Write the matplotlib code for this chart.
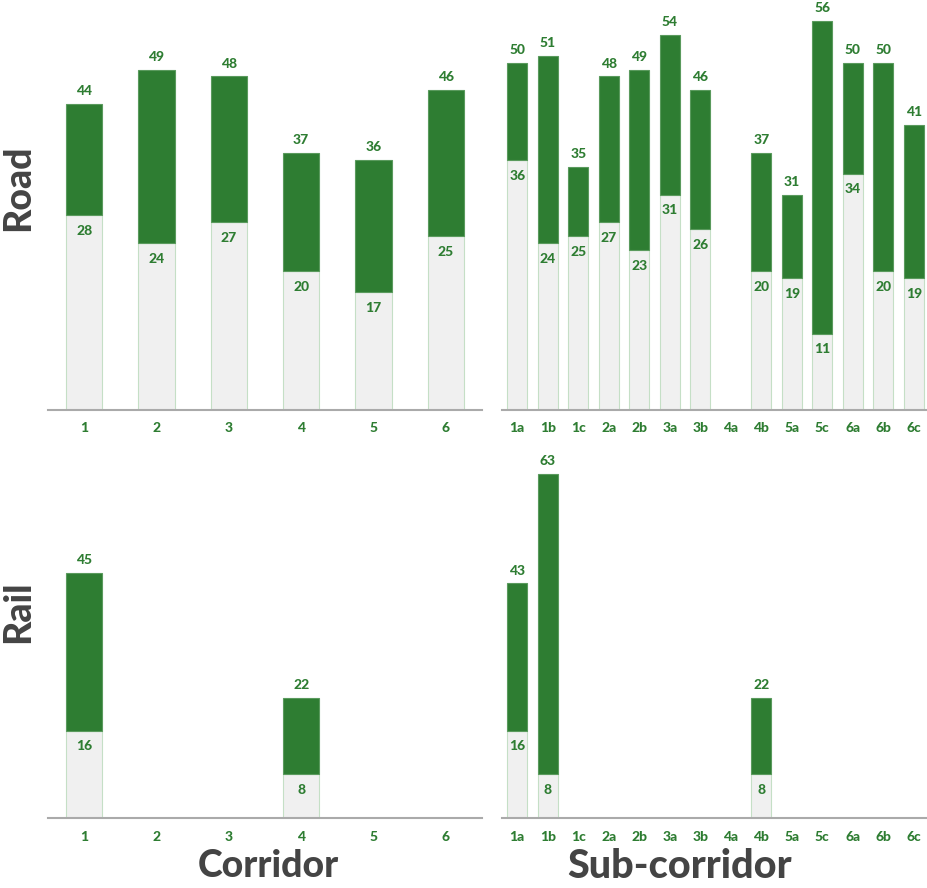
import numpy as np
import matplotlib.pyplot as plt

plt.rcParams['font.family'] = ['Lato', 'DejaVu Sans']

DARK = '#2e7d32'
LIGHT = '#f0f0f0'
LIGHT_EDGE = '#c5dfc6'
GREY = '#444444'

corridors = ['1', '2', '3', '4', '5', '6']
subcorridors = ['1a', '1b', '1c', '2a', '2b', '3a', '3b', '4a', '4b',
                '5a', '5c', '6a', '6b', '6c']

# Road: top of bar (dark) and lower value (light part)
road_corr_hi = [44, 49, 48, 37, 36, 46]
road_corr_lo = [28, 24, 27, 20, 17, 25]
road_sub_hi = [50, 51, 35, 48, 49, 54, 46, None, 37, 31, 56, 50, 50, 41]
road_sub_lo = [36, 24, 25, 27, 23, 31, 26, None, 20, 19, 11, 34, 20, 19]

# Rail
rail_corr_hi = [45, None, None, 22, None, None]
rail_corr_lo = [16, None, None, 8, None, None]
rail_sub_hi = [43, 63, None, None, None, None, None, None, 22,
               None, None, None, None, None]
rail_sub_lo = [16, 8, None, None, None, None, None, None, 8,
               None, None, None, None, None]


def draw(ax, cats, hi, lo, width, ymax):
    x = np.arange(len(cats))
    for xi, h, l in zip(x, hi, lo):
        if h is None:
            continue
        ax.bar(xi, l, width, color=LIGHT, edgecolor=LIGHT_EDGE, linewidth=0.8)
        ax.bar(xi, h - l, width, bottom=l, color=DARK, edgecolor='#5a9a5d',
               linewidth=0.8)
        ax.annotate(str(h), (xi, h), xytext=(0, 5), textcoords='offset points',
                    ha='center', va='bottom', color=DARK, fontsize=10,
                    fontweight='black')
        ax.annotate(str(l), (xi, l), xytext=(0, -7), textcoords='offset points',
                    ha='center', va='top', color=DARK, fontsize=10,
                    fontweight='black')
    ax.set_xlim(-0.5, len(cats) - 0.5)
    ax.set_ylim(0, ymax)
    ax.set_xticks(x)
    ax.set_xticklabels(cats, color=DARK, fontsize=10, fontweight='black')
    ax.tick_params(axis='x', length=0, pad=9)
    ax.set_yticks([])
    for s in ['top', 'left', 'right']:
        ax.spines[s].set_visible(False)
    ax.spines['bottom'].set_color('#aaaaaa')
    ax.spines['bottom'].set_linewidth(1.5)


fig = plt.figure(figsize=(9.27, 8.88), dpi=100)
W, H = 927, 888

def add_axes(x0, x1, ybase, ytop):
    return fig.add_axes([x0 / W, (H - ybase) / H, (x1 - x0) / W, (ybase - ytop) / H])

ax1 = add_axes(48, 482, 410, 7)
ax2 = add_axes(502, 929, 410, 7)
ax3 = add_axes(48, 482, 818, 458)
ax4 = add_axes(502, 929, 818, 458)

draw(ax1, corridors, road_corr_hi, road_corr_lo, 0.5, 58)
draw(ax2, subcorridors, road_sub_hi, road_sub_lo, 0.66, 58)
draw(ax3, corridors, rail_corr_hi, rail_corr_lo, 0.5, 66)
draw(ax4, subcorridors, rail_sub_hi, rail_sub_lo, 0.66, 66)

fig.text(18 / W, 1 - 188 / H, 'Road', rotation=90, ha='center', va='center',
         fontsize=27, fontweight='black', color=GREY)
fig.text(18 / W, 1 - 612 / H, 'Rail', rotation=90, ha='center', va='center',
         fontsize=27, fontweight='black', color=GREY)
fig.text(268 / W, 1 - 866 / H, 'Corridor', ha='center', va='center',
         fontsize=27, fontweight='black', color=GREY)
fig.text(680 / W, 1 - 866 / H, 'Sub-corridor', ha='center', va='center',
         fontsize=28.5, fontweight='black', color=GREY)

fig.savefig('out.png', dpi=100)
